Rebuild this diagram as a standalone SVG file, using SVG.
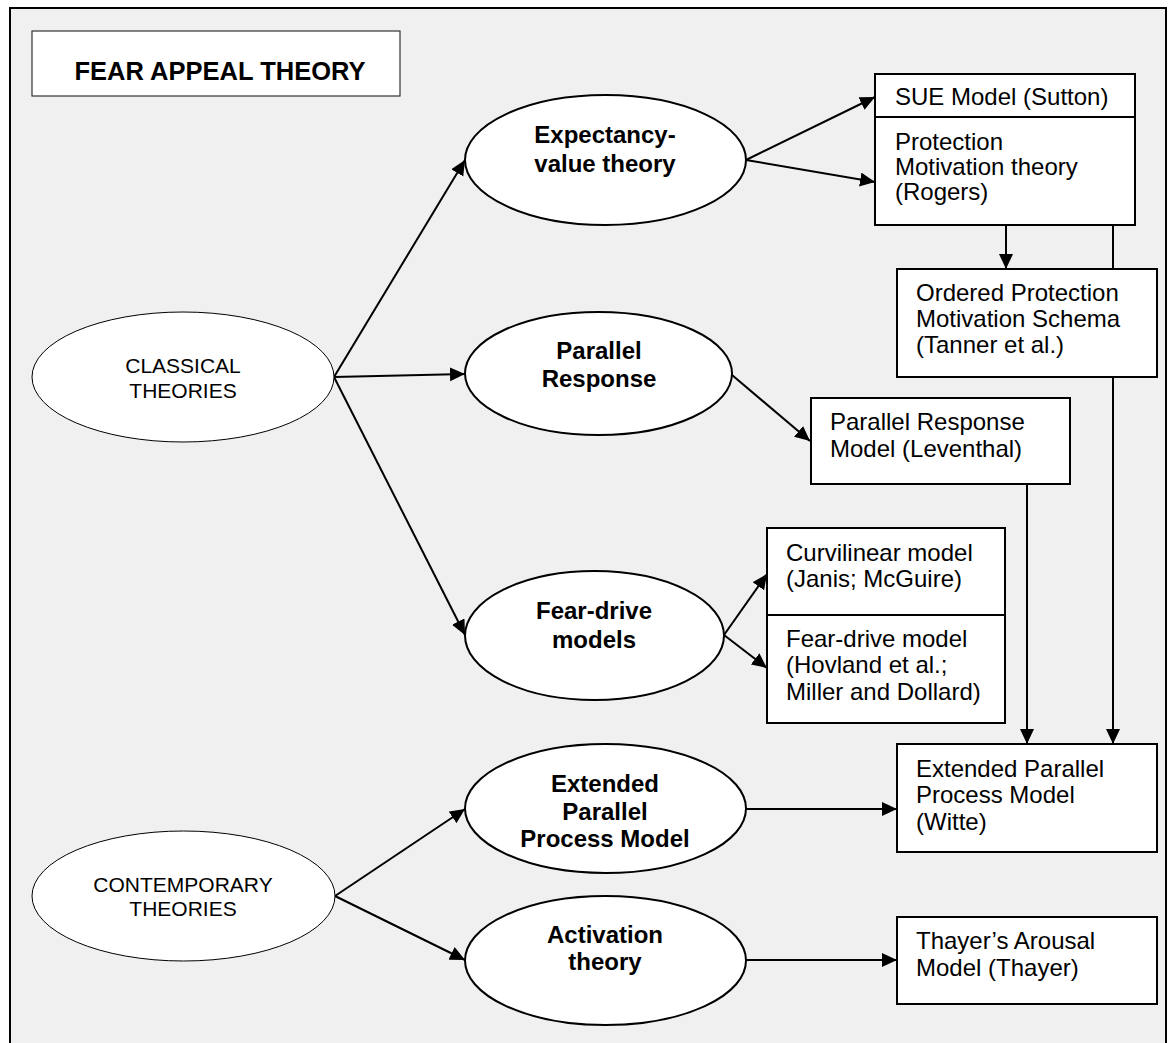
<svg xmlns="http://www.w3.org/2000/svg" width="1171" height="1043" viewBox="0 0 1171 1043">
  <defs>
    <marker id="arrow" markerUnits="userSpaceOnUse" markerWidth="16" markerHeight="15" refX="15" refY="7" orient="auto">
      <path d="M0,0 L15,7 L0,14 z" fill="#000"/>
    </marker>
    <style>
      .frame { fill: #f0f0f0; stroke: #000; stroke-width: 2; }
      .title-box { fill: #fff; stroke: #333; stroke-width: 1.2; }
      .title { font-family: "Liberation Sans", Arial, sans-serif; font-size: 25.5px; font-weight: bold; fill: #000; }
      .group-ell { fill: #fff; stroke: #000; stroke-width: 1; }
      .theory-ell { fill: #fff; stroke: #000; stroke-width: 2; }
      .box { fill: #fff; stroke: #000; stroke-width: 2; }
      .divider { stroke: #000; stroke-width: 2; }
      .group-txt { font-family: "Liberation Sans", Arial, sans-serif; font-size: 21px; fill: #000; text-anchor: middle; }
      .theory-txt { font-family: "Liberation Sans", Arial, sans-serif; font-size: 24px; font-weight: bold; fill: #000; text-anchor: middle; }
      .box-txt { font-family: "Liberation Sans", Arial, sans-serif; font-size: 24px; fill: #000; }
      .conn { fill: none; stroke: #000; stroke-width: 2; }
    </style>
  </defs>

  <rect width="1171" height="1043" fill="#fff"/>
  <rect class="frame" x="10" y="8" width="1156" height="1045"/>

  <!-- title -->
  <g id="title">
    <rect class="title-box" x="32" y="31" width="368" height="65"/>
    <text class="title" x="220" y="80" text-anchor="middle">FEAR APPEAL THEORY</text>
  </g>

  <!-- connectors -->
  <g id="connectors">
    <line class="conn" x1="334" y1="377" x2="465" y2="160" marker-end="url(#arrow)"/>
    <line class="conn" x1="334" y1="377" x2="465" y2="374" marker-end="url(#arrow)"/>
    <line class="conn" x1="334" y1="377" x2="465" y2="635" marker-end="url(#arrow)"/>
    <line class="conn" x1="746" y1="160" x2="875" y2="97" marker-end="url(#arrow)"/>
    <line class="conn" x1="746" y1="160" x2="875" y2="182" marker-end="url(#arrow)"/>
    <line class="conn" x1="732" y1="375" x2="810" y2="441" marker-end="url(#arrow)"/>
    <line class="conn" x1="724" y1="635" x2="767" y2="574" marker-end="url(#arrow)"/>
    <line class="conn" x1="724" y1="635" x2="767" y2="668" marker-end="url(#arrow)"/>
    <line class="conn" x1="1006" y1="226" x2="1006" y2="269" marker-end="url(#arrow)"/>
    <path class="conn" d="M1113,226 V269 M1113,377 V744" marker-end="url(#arrow)"/>
    <line class="conn" x1="1027" y1="484" x2="1027" y2="744" marker-end="url(#arrow)"/>
    <line class="conn" x1="335" y1="896" x2="465" y2="809" marker-end="url(#arrow)"/>
    <line class="conn" x1="335" y1="896" x2="465" y2="960" marker-end="url(#arrow)"/>
    <line class="conn" x1="746" y1="809" x2="897" y2="809" marker-end="url(#arrow)"/>
    <line class="conn" x1="746" y1="960" x2="897" y2="960" marker-end="url(#arrow)"/>
  </g>

  <!-- group ellipses -->
  <g id="classical">
    <ellipse class="group-ell" cx="183" cy="377" rx="151" ry="65"/>
    <text class="group-txt" x="183" y="373">CLASSICAL</text>
    <text class="group-txt" x="183" y="398">THEORIES</text>
  </g>
  <g id="contemporary">
    <ellipse class="group-ell" cx="183.5" cy="896" rx="151.5" ry="65"/>
    <text class="group-txt" x="183" y="892">CONTEMPORARY</text>
    <text class="group-txt" x="183" y="916">THEORIES</text>
  </g>

  <!-- theory ellipses -->
  <g id="expectancy-value">
    <ellipse class="theory-ell" cx="605.5" cy="160" rx="140.5" ry="65"/>
    <text class="theory-txt" x="605" y="143">Expectancy-</text>
    <text class="theory-txt" x="605" y="172">value theory</text>
  </g>
  <g id="parallel-response">
    <ellipse class="theory-ell" cx="598.5" cy="373.5" rx="133.5" ry="61.5"/>
    <text class="theory-txt" x="599" y="359">Parallel</text>
    <text class="theory-txt" x="599" y="387">Response</text>
  </g>
  <g id="fear-drive">
    <ellipse class="theory-ell" cx="594.5" cy="635.5" rx="129.5" ry="64.5"/>
    <text class="theory-txt" x="594" y="619">Fear-drive</text>
    <text class="theory-txt" x="594" y="648">models</text>
  </g>
  <g id="eppm">
    <ellipse class="theory-ell" cx="605.5" cy="808.5" rx="140.5" ry="64.5"/>
    <text class="theory-txt" x="605" y="792">Extended</text>
    <text class="theory-txt" x="605" y="820">Parallel</text>
    <text class="theory-txt" x="605" y="847">Process Model</text>
  </g>
  <g id="activation">
    <ellipse class="theory-ell" cx="605.5" cy="960.5" rx="140.5" ry="64.5"/>
    <text class="theory-txt" x="605" y="943">Activation</text>
    <text class="theory-txt" x="605" y="970">theory</text>
  </g>

  <!-- model boxes -->
  <g id="sue-pmt">
    <rect class="box" x="875" y="74" width="260" height="151"/>
    <line class="divider" x1="875" y1="117" x2="1135" y2="117"/>
    <text class="box-txt" x="895" y="105">SUE Model (Sutton)</text>
    <text class="box-txt" x="895" y="150">Protection</text>
    <text class="box-txt" x="895" y="175">Motivation theory</text>
    <text class="box-txt" x="895" y="200">(Rogers)</text>
  </g>
  <g id="ordered-pms">
    <rect class="box" x="897" y="269" width="260" height="108"/>
    <text class="box-txt" x="916" y="301">Ordered Protection</text>
    <text class="box-txt" x="916" y="327">Motivation Schema</text>
    <text class="box-txt" x="916" y="353">(Tanner et al.)</text>
  </g>
  <g id="parallel-response-model">
    <rect class="box" x="811" y="398" width="259" height="86"/>
    <text class="box-txt" x="830" y="430">Parallel Response</text>
    <text class="box-txt" x="830" y="457">Model (Leventhal)</text>
  </g>
  <g id="curvilinear-feardrive">
    <rect class="box" x="767" y="528" width="238" height="195"/>
    <line class="divider" x1="767" y1="615" x2="1005" y2="615"/>
    <text class="box-txt" x="786" y="561">Curvilinear model</text>
    <text class="box-txt" x="786" y="587">(Janis; McGuire)</text>
    <text class="box-txt" x="786" y="647">Fear-drive model</text>
    <text class="box-txt" x="786" y="673">(Hovland et al.;</text>
    <text class="box-txt" x="786" y="700">Miller and Dollard)</text>
  </g>
  <g id="eppm-model">
    <rect class="box" x="897" y="744" width="260" height="108"/>
    <text class="box-txt" x="916" y="777">Extended Parallel</text>
    <text class="box-txt" x="916" y="803">Process Model</text>
    <text class="box-txt" x="916" y="830">(Witte)</text>
  </g>
  <g id="thayer-model">
    <rect class="box" x="897" y="917" width="260" height="87"/>
    <text class="box-txt" x="916" y="949">Thayer’s Arousal</text>
    <text class="box-txt" x="916" y="976">Model (Thayer)</text>
  </g>
</svg>
